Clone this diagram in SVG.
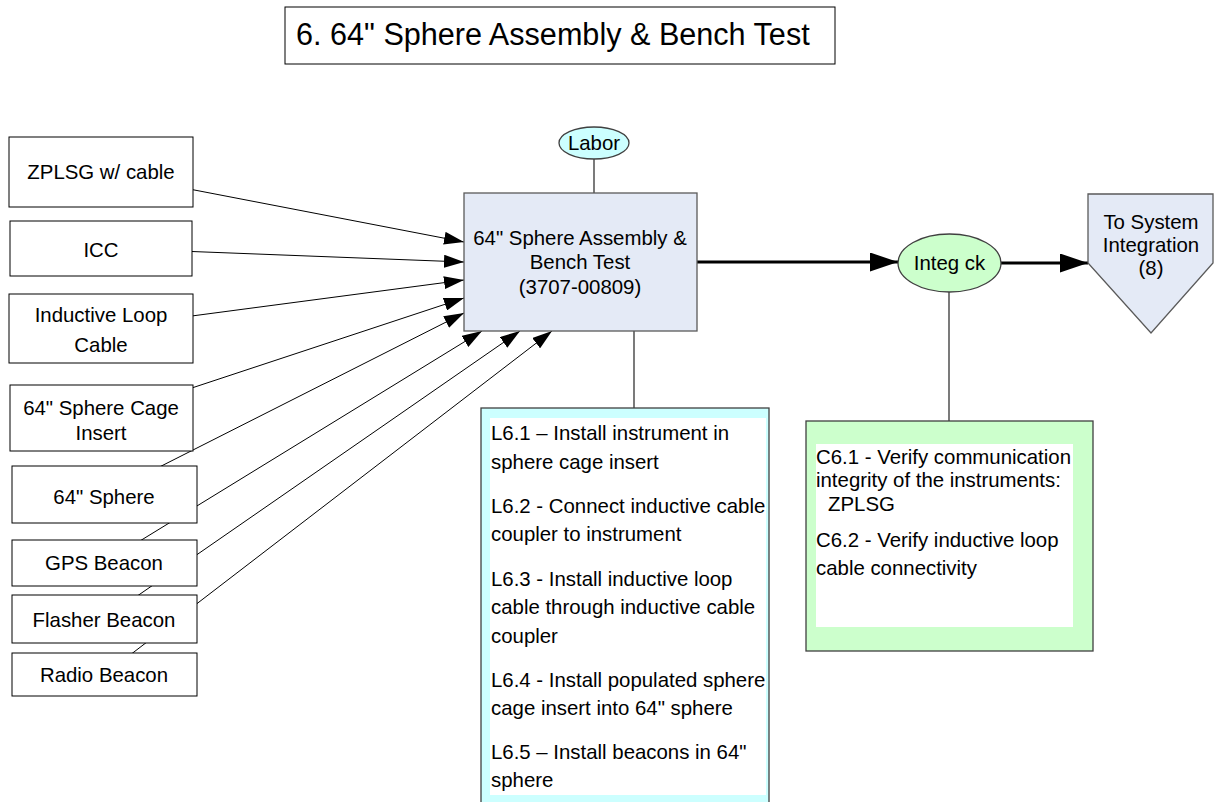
<svg xmlns="http://www.w3.org/2000/svg" width="1227" height="802" viewBox="0 0 1227 802">
  <style>
    text { font-family: "Liberation Sans", Arial, sans-serif; font-size: 20.4px; fill: #000; }
    .c { text-anchor: middle; }
    .box { fill: #fff; stroke: #000; stroke-width: 1; }
    .proc { fill: #e4eaf6; stroke: #5a5a5a; stroke-width: 1.3; }
    .cyan { fill: #ccffff; stroke: #404040; stroke-width: 1.3; }
    .green { fill: #ccffcc; stroke: #404040; stroke-width: 1.3; }
    .inner { fill: #fff; stroke: none; }
    .link { stroke: #000; stroke-width: 1; fill: none; marker-end: url(#arr); }
    .flow { stroke: #000; stroke-width: 3; fill: none; marker-end: url(#arrBig); }
    .tie { stroke: #222; stroke-width: 1.2; fill: none; }
  </style>
  <defs>
    <marker id="arr" markerUnits="userSpaceOnUse" markerWidth="20" markerHeight="13" refX="20" refY="6.5" orient="auto">
      <path d="M0,0 L20,6.5 L0,13 Z" fill="#000"/>
    </marker>
    <marker id="arrBig" markerUnits="userSpaceOnUse" markerWidth="28" markerHeight="19" refX="28" refY="9.5" orient="auto">
      <path d="M0,0 L28,9.5 L0,19 Z" fill="#000"/>
    </marker>
  </defs>

  <rect width="1227" height="802" fill="#fff"/>

  <!-- title -->
  <g id="title">
    <rect x="285" y="7" width="550" height="57" class="box"/>
    <text x="296" y="45" style="font-size:30.6px">6. 64" Sphere Assembly &amp; Bench Test</text>
  </g>

  <!-- connectors (drawn under the nodes, starting at the input box centres) -->
  <g id="connectors">
    <line x1="101" y1="172" x2="464" y2="242" class="link"/>
    <line x1="101" y1="248" x2="464" y2="262" class="link"/>
    <line x1="101" y1="328" x2="464" y2="280" class="link"/>
    <line x1="101" y1="418" x2="464" y2="298" class="link"/>
    <line x1="104" y1="495" x2="464" y2="313" class="link"/>
    <line x1="104" y1="563" x2="482" y2="331" class="link"/>
    <line x1="104" y1="619" x2="520" y2="331" class="link"/>
    <line x1="104" y1="675" x2="552" y2="331" class="link"/>
    <line x1="697" y1="262" x2="898" y2="262" class="flow"/>
    <line x1="1001" y1="263" x2="1088" y2="263" class="flow"/>
    <line x1="594" y1="159" x2="594" y2="193" class="tie"/>
    <line x1="634" y1="331" x2="634" y2="408" class="tie"/>
    <line x1="949" y1="292" x2="949" y2="421" class="tie"/>
  </g>

  <!-- input boxes -->
  <g id="zplsg">
    <rect x="9" y="137" width="184" height="70" class="box"/>
    <text x="101" y="179" class="c">ZPLSG w/ cable</text>
  </g>
  <g id="icc">
    <rect x="10" y="221" width="182" height="55" class="box"/>
    <text x="101" y="257" class="c">ICC</text>
  </g>
  <g id="inductive-loop">
    <rect x="9" y="294" width="184" height="69" class="box"/>
    <text x="101" y="322" class="c">Inductive Loop</text>
    <text x="101" y="352" class="c">Cable</text>
  </g>
  <g id="cage-insert">
    <rect x="10" y="385" width="183" height="66" class="box"/>
    <text x="101" y="415" class="c">64" Sphere Cage</text>
    <text x="101" y="440" class="c">Insert</text>
  </g>
  <g id="sphere">
    <rect x="12" y="466" width="185" height="57" class="box"/>
    <text x="104" y="504" class="c">64" Sphere</text>
  </g>
  <g id="gps">
    <rect x="12" y="540" width="185" height="46" class="box"/>
    <text x="104" y="570" class="c">GPS Beacon</text>
  </g>
  <g id="flasher">
    <rect x="12" y="595" width="185" height="48" class="box"/>
    <text x="104" y="627" class="c">Flasher Beacon</text>
  </g>
  <g id="radio">
    <rect x="12" y="653" width="185" height="43" class="box"/>
    <text x="104" y="682" class="c">Radio Beacon</text>
  </g>

  <!-- labor resource -->
  <g id="labor">
    <ellipse cx="594" cy="143" rx="35" ry="16" class="cyan"/>
    <text x="594" y="150" class="c">Labor</text>
  </g>

  <!-- main process -->
  <g id="assembly">
    <rect x="464" y="193" width="233" height="138" class="proc"/>
    <text x="580" y="245" class="c">64" Sphere Assembly &amp;</text>
    <text x="580" y="269" class="c">Bench Test</text>
    <text x="580" y="294" class="c">(3707-00809)</text>
  </g>

  <!-- labor steps -->
  <g id="labor-steps">
    <rect x="481" y="408" width="288" height="410" class="cyan"/>
    <rect x="490" y="418" width="276" height="377" class="inner"/>
    <text x="491" y="440">L6.1 – Install instrument in</text>
    <text x="491" y="469">sphere cage insert</text>
    <text x="491" y="513">L6.2 - Connect inductive cable</text>
    <text x="491" y="541">coupler to instrument</text>
    <text x="491" y="586">L6.3 - Install inductive loop</text>
    <text x="491" y="614">cable through inductive cable</text>
    <text x="491" y="643">coupler</text>
    <text x="491" y="687">L6.4 - Install populated sphere</text>
    <text x="491" y="715">cage insert into 64" sphere</text>
    <text x="491" y="759">L6.5 – Install beacons in 64"</text>
    <text x="491" y="787">sphere</text>
  </g>

  <!-- integration check -->
  <g id="integ-ck">
    <ellipse cx="949.5" cy="263" rx="51.5" ry="29" class="green"/>
    <text x="949.5" y="270" class="c">Integ ck</text>
  </g>

  <!-- check steps -->
  <g id="check-steps">
    <rect x="806" y="421" width="287" height="230" class="green"/>
    <rect x="816" y="444" width="257" height="183" class="inner"/>
    <text x="816" y="464">C6.1 - Verify communication</text>
    <text x="816" y="487">integrity of the instruments:</text>
    <text x="828" y="511">ZPLSG</text>
    <text x="816" y="547">C6.2 - Verify inductive loop</text>
    <text x="816" y="575">cable connectivity</text>
  </g>

  <!-- off-page reference -->
  <g id="to-system-integration">
    <path d="M1088,194 L1213,194 L1213,263 L1151,333 L1088,263 Z" class="proc"/>
    <text x="1151" y="229" class="c">To System</text>
    <text x="1151" y="252" class="c">Integration</text>
    <text x="1151" y="275" class="c">(8)</text>
  </g>
</svg>
